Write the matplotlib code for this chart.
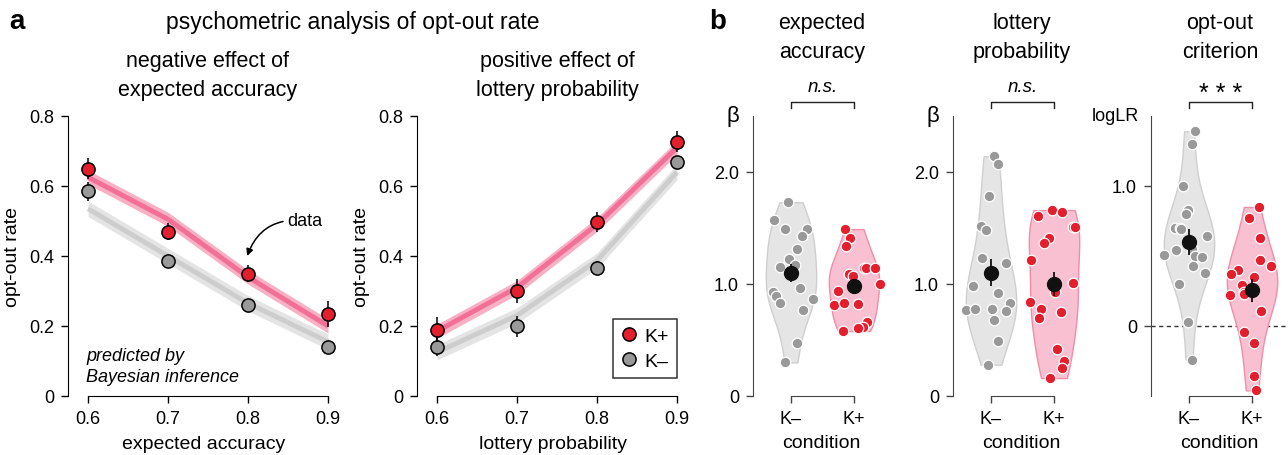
import numpy as np
import matplotlib
matplotlib.use('Agg')
import matplotlib.pyplot as plt
from matplotlib.lines import Line2D

plt.rcParams['font.family'] = ['Liberation Sans', 'DejaVu Sans']

# ---- panel a data ----
levels = [0.6, 0.7, 0.8, 0.9]

acc_kp = [0.65, 0.47, 0.35, 0.235]
acc_kp_err = [0.03, 0.025, 0.025, 0.037]
acc_km = [0.585, 0.385, 0.26, 0.14]
acc_km_err = [0.027, 0.015, 0.01, 0.01]
acc_kp_pred = [0.625, 0.505, 0.34, 0.2]
acc_km_pred = [0.535, 0.40, 0.265, 0.155]

lot_kp = [0.19, 0.30, 0.497, 0.727]
lot_kp_err = [0.037, 0.033, 0.029, 0.03]
lot_km = [0.14, 0.20, 0.365, 0.67]
lot_km_err = [0.025, 0.03, 0.02, 0.015]
lot_kp_pred = [0.185, 0.31, 0.49, 0.71]
lot_km_pred = [0.125, 0.23, 0.387, 0.64]

# ---- panel b data (individual subjects) ----
ea_km = [1.73, 1.57, 1.49, 1.49, 1.43, 1.31, 1.22, 1.15, 1.17, 0.93, 0.89, 0.83, 0.96, 0.87, 0.77, 0.47, 0.30]
ea_km_jit = [-0.04, -0.27, -0.09, 0.26, 0.17, 0.10, -0.03, -0.17, 0.06, -0.29, -0.24, -0.18, 0.15, 0.35, 0.19, 0.10, -0.09]
ea_kp = [1.49, 1.41, 1.34, 1.09, 1.07, 1.14, 1.14, 1.14, 1.00, 0.94, 0.81, 0.83, 0.82, 0.66, 0.62, 0.61, 0.58]
ea_kp_jit = [-0.15, -0.06, -0.13, -0.08, -0.01, 0.16, 0.19, 0.33, 0.41, -0.25, -0.31, -0.16, 0.06, 0.21, 0.15, 0.07, -0.17]

lp_km = [2.14, 2.07, 1.79, 1.52, 1.48, 1.23, 1.19, 0.98, 0.77, 0.78, 0.78, 0.92, 0.83, 0.76, 0.68, 0.49, 0.28]
lp_km_jit = [0.04, 0.11, -0.03, -0.16, -0.08, -0.15, 0.24, -0.29, -0.40, -0.26, 0.02, 0.11, 0.30, 0.24, 0.05, 0.11, -0.04]
lp_kp = [1.66, 1.64, 1.61, 1.51, 1.51, 1.41, 1.37, 1.21, 1.01, 0.93, 0.84, 0.78, 0.70, 0.75, 0.42, 0.31, 0.25, 0.16]
lp_kp_jit = [-0.03, 0.13, -0.25, 0.30, 0.34, -0.08, -0.16, -0.36, 0.30, 0.01, -0.38, -0.21, -0.24, 0.11, 0.05, 0.16, 0.12, -0.07]

oc_km = [1.39, 1.30, 1.00, 0.83, 0.80, 0.70, 0.70, 0.69, 0.64, 0.55, 0.54, 0.51, 0.50, 0.49, 0.43, 0.38, 0.30, 0.03, -0.24]
oc_km_jit = [0.09, 0.04, -0.09, -0.01, -0.04, -0.22, -0.15, -0.12, 0.29, 0.04, -0.21, -0.39, 0.09, 0.21, 0.07, 0.26, -0.16, -0.02, 0.04]
oc_kp = [0.85, 0.77, 0.63, 0.47, 0.43, 0.40, 0.37, 0.35, 0.29, 0.24, 0.23, 0.22, 0.11, -0.04, -0.12, -0.36, -0.46]
oc_kp_jit = [0.11, -0.05, 0.13, 0.13, 0.30, -0.22, -0.33, 0.03, -0.16, -0.12, -0.13, -0.35, 0.15, -0.12, 0.03, 0.03, 0.07]

# group means and s.e.m.
ea_mean = [1.10, 0.985]
ea_sem = [0.08, 0.045]
lp_mean = [1.10, 1.0]
lp_sem = [0.12, 0.11]
oc_mean = [0.60, 0.255]
oc_sem = [0.09, 0.08]

RED = '#e31e2d'
GRAY = '#999999'
RED_BAND = '#f7b0c4'
RED_LINE = '#f26f98'
GRAY_BAND = '#e4e4e4'
GRAY_LINE = '#cdcdcd'

TICK_FS = 13
LABEL_FS = 14
TITLE_FS = 15.5

W, H = 1288, 456
fig = plt.figure(figsize=(W / 100, H / 100), dpi=100)


def px_axes(left, top, right, bottom):
    return fig.add_axes([left / W, 1 - bottom / H, (right - left) / W, (bottom - top) / H])


def psych_panel(ax, kp, kp_err, km, km_err, kp_pred, km_pred):
    ax.fill_between(levels, np.array(km_pred) - 0.022, np.array(km_pred) + 0.022, color=GRAY_BAND, lw=0)
    ax.plot(levels, km_pred, color=GRAY_LINE, lw=3.5, solid_capstyle='butt')
    ax.fill_between(levels, np.array(kp_pred) - 0.02, np.array(kp_pred) + 0.02, color=RED_BAND, lw=0)
    ax.plot(levels, kp_pred, color=RED_LINE, lw=3.5, solid_capstyle='butt')
    ax.errorbar(levels, km, yerr=km_err, fmt='o', ms=9.5, mfc=GRAY, mec='k', mew=1.1,
                ecolor='k', elinewidth=1.1, capsize=0, clip_on=False, zorder=3)
    ax.errorbar(levels, kp, yerr=kp_err, fmt='o', ms=9.5, mfc=RED, mec='k', mew=1.1,
                ecolor='k', elinewidth=1.1, capsize=0, clip_on=False, zorder=4)
    ax.set_xlim(0.575, 0.915)
    ax.set_ylim(0, 0.8)
    ax.set_xticks(levels)
    ax.set_xticklabels(['0.6', '0.7', '0.8', '0.9'])
    ax.set_yticks([0, 0.2, 0.4, 0.6, 0.8])
    ax.set_yticklabels(['0', '0.2', '0.4', '0.6', '0.8'])
    for s in ['top', 'right']:
        ax.spines[s].set_visible(False)
    ax.spines['bottom'].set_bounds(0.6, 0.9)
    ax.spines['left'].set_bounds(0, 0.8)
    ax.tick_params(labelsize=TICK_FS, length=5, width=1, pad=5)
    ax.set_ylabel('opt-out rate', fontsize=LABEL_FS, labelpad=6)
    ax.patch.set_alpha(0)


ax1 = px_axes(68, 117, 340, 397)
psych_panel(ax1, acc_kp, acc_kp_err, acc_km, acc_km_err, acc_kp_pred, acc_km_pred)
ax1.set_xlabel('expected accuracy', fontsize=LABEL_FS, labelpad=6)
ax1.text(0.598, 0.086, 'predicted by\nBayesian inference', fontsize=13, style='italic',
         ha='left', va='center', linespacing=1.3)
ax1.annotate('data', xy=(0.799, 0.4), xytext=(0.849, 0.5), fontsize=13, ha='left', va='center',
             arrowprops=dict(arrowstyle='-|>', color='k', lw=1.1, mutation_scale=10,
                             connectionstyle='arc3,rad=0.4', shrinkA=1, shrinkB=0))

ax2 = px_axes(417, 117, 689, 397)
psych_panel(ax2, lot_kp, lot_kp_err, lot_km, lot_km_err, lot_kp_pred, lot_km_pred)
ax2.set_xlabel('lottery probability', fontsize=LABEL_FS, labelpad=6)
handles = [Line2D([], [], ls='none', marker='o', ms=9.5, mfc=RED, mec='k', mew=1.1),
           Line2D([], [], ls='none', marker='o', ms=9.5, mfc=GRAY, mec='k', mew=1.1)]
leg = ax2.legend(handles, ['K+', 'K–'], loc='lower right', bbox_to_anchor=(0.955, 0.065),
                 fontsize=14, frameon=True, fancybox=False, handlelength=0.8,
                 handletextpad=0.4, labelspacing=0.4, borderpad=0.4, borderaxespad=0)
leg.get_frame().set_edgecolor('k')
leg.get_frame().set_linewidth(1.1)


def violin_panel(ax, km, km_jit, kp, kp_jit, means, sems, ylim, yticks, ylabels, sig, ylab):
    parts = ax.violinplot([km, kp], positions=[0, 1], widths=0.8, showextrema=False, bw_method=0.6)
    for body, fc, ec in zip(parts['bodies'], ['#e5e5e5', '#f9c0d1'], ['#cfcfcf', '#ee8ea8']):
        body.set_facecolor(fc)
        body.set_edgecolor(ec)
        body.set_linewidth(1)
        body.set_alpha(1)
    ax.scatter(np.array(km_jit), km, s=58, color=GRAY, edgecolor='white', lw=0.9, zorder=3)
    ax.scatter(1 + np.array(kp_jit), kp, s=58, color=RED, edgecolor='white', lw=0.9, zorder=3)
    ax.errorbar([0, 1], means, yerr=sems, fmt='o', ms=10, color='#111111', ecolor='#111111',
                elinewidth=1.3, capsize=0, zorder=5)
    ax.set_xlim(-0.603, 1.571)
    ax.set_ylim(*ylim)
    ax.set_xticks([0, 1])
    ax.set_xticklabels(['K–', 'K+'])
    ax.set_yticks(yticks)
    ax.set_yticklabels(ylabels)
    for s in ['top', 'right']:
        ax.spines[s].set_visible(False)
    ax.spines['bottom'].set_bounds(0, 1)
    ax.spines['left'].set_color('#444444')
    ax.spines['bottom'].set_color('#444444')
    ax.tick_params(labelsize=TICK_FS, length=5, width=1, pad=5, color='#444444')
    ax.set_xlabel('condition', fontsize=LABEL_FS, labelpad=5)
    ax.patch.set_alpha(0)
    # significance bracket, placed in pixel-like units above the axis
    span = ylim[1] - ylim[0]
    yb = ylim[1] + span * 14 / 280
    yt = yb - span * 6 / 280
    ax.plot([0, 0, 1, 1], [yt, yb, yb, yt], color='#222222', lw=1, clip_on=False)
    if sig == 'n.s.':
        ax.text(0.5, yb + span * 15 / 280, sig, style='italic', fontsize=13.5, ha='center', va='center')
    else:
        ax.text(0.5, yb + span * 9 / 280, sig, fontsize=18, ha='center', va='center')
    ax.text(ylab[1], 1.0, ylab[0], transform=ax.transAxes, fontsize=ylab[2], ha='center', va='center')


ax3 = px_axes(753, 117, 890, 397)
violin_panel(ax3, ea_km, ea_km_jit, ea_kp, ea_kp_jit, ea_mean, ea_sem, (0, 2.5),
             [0, 1, 2], ['0', '1.0', '2.0'], 'n.s.', ('β', -0.146, 16))

ax4 = px_axes(953, 117, 1090, 397)
violin_panel(ax4, lp_km, lp_km_jit, lp_kp, lp_kp_jit, lp_mean, lp_sem, (0, 2.5),
             [0, 1, 2], ['0', '1.0', '2.0'], 'n.s.', ('β', -0.146, 16))

ax5 = px_axes(1151, 117, 1288, 397)
ax5.axhline(0, color='#333333', lw=1, ls=(0, (3, 2.5)), zorder=1)
violin_panel(ax5, oc_km, oc_km_jit, oc_kp, oc_kp_jit, oc_mean, oc_sem, (-0.5, 1.5),
             [0, 1], ['0', '1.0'], '* * *', ('logLR', -0.263, 13))

# titles and panel letters
fig.text(17 / W, 1 - 22 / H, 'a', fontsize=20, fontweight='bold', ha='center', va='center')
fig.text(718 / W, 1 - 22 / H, 'b', fontsize=20, fontweight='bold', ha='center', va='center')
fig.text(353 / W, 1 - 22 / H, 'psychometric analysis of opt-out rate', fontsize=16.5, ha='center', va='center')
fig.text(208 / W, 1 - 76 / H, 'negative effect of\nexpected accuracy', fontsize=TITLE_FS, ha='center', va='center', linespacing=1.45)
fig.text(557 / W, 1 - 76 / H, 'positive effect of\nlottery probability', fontsize=TITLE_FS, ha='center', va='center', linespacing=1.45)
fig.text(822 / W, 1 - 38 / H, 'expected\naccuracy', fontsize=TITLE_FS, ha='center', va='center', linespacing=1.5)
fig.text(1022 / W, 1 - 38 / H, 'lottery\nprobability', fontsize=TITLE_FS, ha='center', va='center', linespacing=1.5)
fig.text(1220 / W, 1 - 38 / H, 'opt-out\ncriterion', fontsize=TITLE_FS, ha='center', va='center', linespacing=1.5)

fig.savefig('out.png', dpi=100)
